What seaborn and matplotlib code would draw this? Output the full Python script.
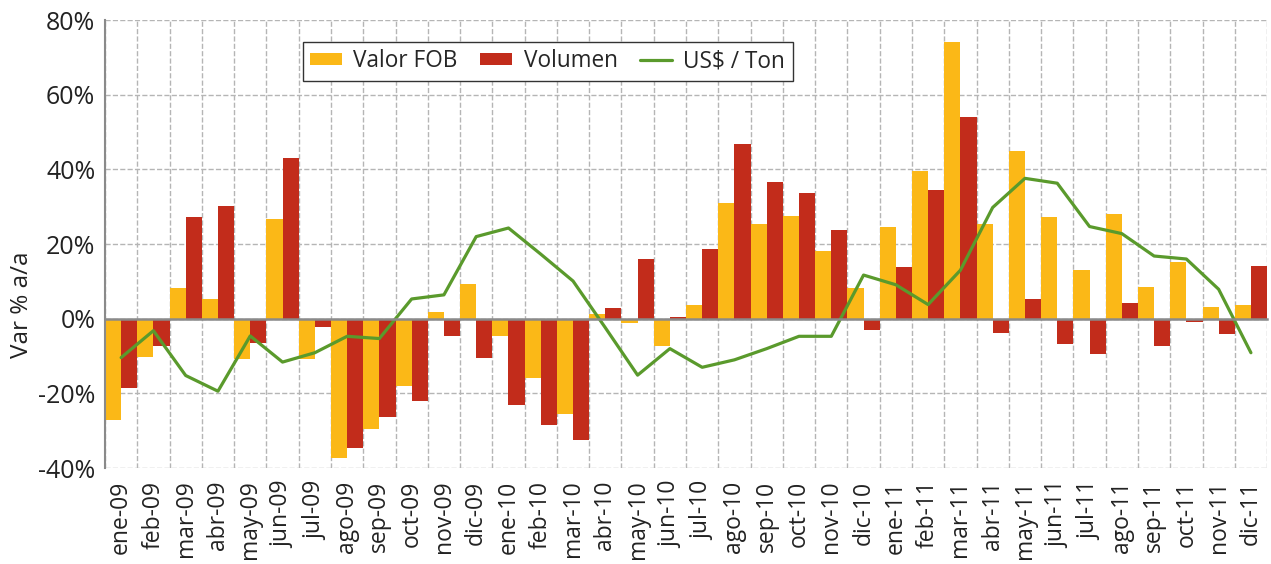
import matplotlib

matplotlib.use("Agg")
import matplotlib.pyplot as plt
import numpy as np
import pandas as pd
import seaborn as sns
from matplotlib.ticker import FuncFormatter

meses = [
    "ene-09", "feb-09", "mar-09", "abr-09", "may-09", "jun-09",
    "jul-09", "ago-09", "sep-09", "oct-09", "nov-09", "dic-09",
    "ene-10", "feb-10", "mar-10", "abr-10", "may-10", "jun-10",
    "jul-10", "ago-10", "sep-10", "oct-10", "nov-10", "dic-10",
    "ene-11", "feb-11", "mar-11", "abr-11", "may-11", "jun-11",
    "jul-11", "ago-11", "sep-11", "oct-11", "nov-11", "dic-11",
]
valor_fob = [
    -27.1, -10.3, 8.2, 5.2, -10.7, 26.8, -10.7, -37.4, -29.6, -18.0, 1.7, 9.4,
    -4.7, -15.9, -25.4, 1.3, -1.2, -7.4, 3.6, 31.0, 25.4, 27.5, 18.1, 8.2,
    24.7, 39.6, 74.1, 25.4, 44.8, 27.2, 13.0, 28.0, 8.6, 15.2, 3.1, 3.8,
]
volumen = [
    -18.5, -7.4, 27.2, 30.2, -6.4, 43.1, -2.1, -34.5, -26.2, -21.9, -4.7, -10.4,
    -23.2, -28.4, -32.6, 3.0, 16.0, 0.5, 18.6, 46.9, 36.7, 33.6, 23.7, -2.9,
    13.8, 34.5, 53.9, -3.8, 5.3, -6.8, -9.4, 4.3, -7.3, -0.8, -4.2, 14.2,
]
usd_ton = [
    -10.4, -3.2, -15.2, -19.4, -4.6, -11.6, -9.1, -4.7, -5.3, 5.3, 6.4, 22.0,
    24.3, 17.3, 10.1, -2.4, -15.1, -8.0, -13.0, -11.0, -8.0, -4.7, -4.7, 11.7,
    9.1, 3.8, 13.0, 29.8, 37.6, 36.3, 24.7, 22.8, 16.8, 16.0, 7.9, -9.1,
]

AMARILLO = "#fbb817"
ROJO = "#c22c1b"
VERDE = "#5a9a2c"
GRIS = "#8a8a8a"

df = pd.DataFrame({
    "mes": meses * 2,
    "valor": valor_fob + volumen,
    "serie": ["Valor FOB"] * len(meses) + ["Volumen"] * len(meses),
})

sns.set_style("white")
plt.rcParams["font.family"] = ["Open Sans", "DejaVu Sans"]

fig, ax = plt.subplots(figsize=(12.71, 5.64), dpi=100)
fig.subplots_adjust(left=0.0826, right=0.9969, top=0.9645, bottom=0.170)

sns.barplot(
    data=df, x="mes", y="valor", hue="serie",
    palette=[AMARILLO, ROJO], width=1.0, gap=0, saturation=1,
    errorbar=None, linewidth=0, ax=ax,
)
sns.lineplot(x=np.arange(len(meses)), y=usd_ton, color=VERDE, linewidth=2.3,
             label="US$ / Ton", ax=ax)

ax.set_xlim(-0.5, len(meses) - 0.5)
ax.set_ylim(-40, 80)
ax.set_yticks(range(-40, 81, 20))
ax.yaxis.set_major_formatter(FuncFormatter(lambda v, _: f"{int(v)}%"))
ax.set_xticks(np.arange(-0.5, len(meses), 1.0))
ax.set_xticklabels([])
ax.set_xlabel("")
ax.set_ylabel("Var % a/a", fontsize=17.5, color="#222222")
ax.yaxis.set_label_coords(-0.061, 0.365)

ax.set_axisbelow(True)
ax.grid(True, which="major", linestyle="--", color="#b5b5b5", linewidth=1.0)

ax.spines["top"].set_visible(False)
ax.spines["right"].set_visible(False)
ax.spines["bottom"].set_position(("data", 0))
ax.spines["bottom"].set_color(GRIS)
ax.spines["bottom"].set_linewidth(1.8)
ax.spines["left"].set_color(GRIS)
ax.spines["left"].set_linewidth(1.5)

ax.tick_params(axis="x", direction="out", length=5, width=1.2, color="#111111")
ax.tick_params(axis="y", direction="out", length=7, width=1.2, color=GRIS,
               labelsize=18, labelcolor="#222222", pad=0)

sec = ax.secondary_xaxis(0)
sec.set_xticks(np.arange(len(meses)), labels=meses, rotation=90)
sec.tick_params(length=0, pad=9, labelsize=16.5, labelcolor="#222222")
for side in sec.spines.values():
    side.set_visible(False)

handles, labels = ax.get_legend_handles_labels()
ax.legend(
    handles, labels, ncol=3, loc="upper left", bbox_to_anchor=(0.170, 0.952),
    borderaxespad=0, frameon=True, fancybox=False, framealpha=1,
    edgecolor="#333333", fontsize=16.3, handlelength=1.4, handleheight=0.45,
    handletextpad=0.5, columnspacing=1.0, borderpad=0.35,
)
ax.get_legend().get_frame().set_linewidth(1.0)

fig.savefig("out.png", dpi=100)
plt.close(fig)
